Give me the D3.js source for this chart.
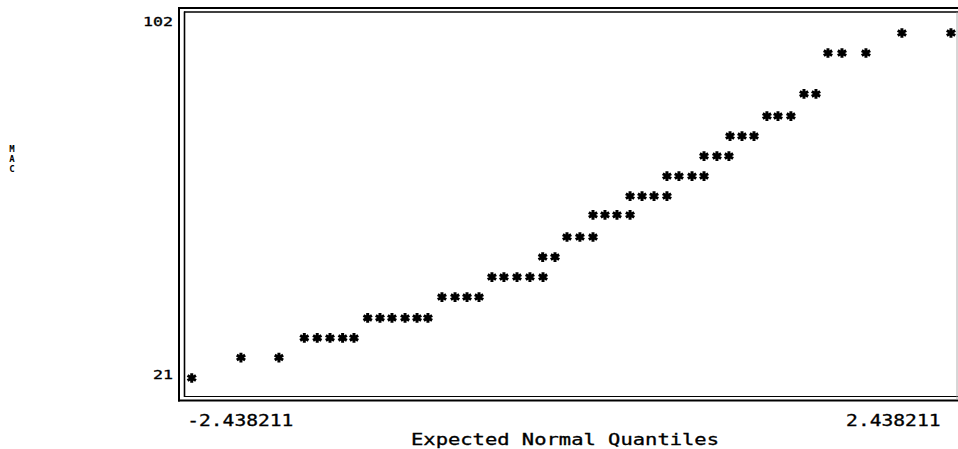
<!DOCTYPE html>
<html>
<head>
<meta charset="utf-8">
<script src="https://cdn.jsdelivr.net/npm/d3@7"></script>
<style>
  body { margin: 0; background: #fff; }
  text { font-family: "DejaVu Sans Mono", "Liberation Mono", monospace; fill: #000; }
</style>
</head>
<body>
<svg id="chart" width="958" height="449"></svg>
<script>
// ---- data ----
const quantiles = [
  -2.438,
  -2.122, -1.878,
  -1.715, -1.632, -1.550, -1.469, -1.396,
  -1.308, -1.229, -1.152, -1.068, -0.991, -0.921,
  -0.831, -0.747, -0.670, -0.593,
  -0.510, -0.433, -0.349, -0.266, -0.182,
  -0.184, -0.105,
  -0.028, 0.055, 0.139,
  0.139, 0.216, 0.293, 0.377,
  0.377, 0.454, 0.531, 0.614,
  0.614, 0.691, 0.775, 0.852,
  0.852, 0.935, 1.012,
  1.019, 1.096, 1.173,
  1.256, 1.327, 1.410,
  1.494, 1.571,
  1.648, 1.738, 1.892,
  2.123, 2.438
];
const macValues = [
  21,
  25.8, 25.8,
  30.4, 30.4, 30.4, 30.4, 30.4,
  35.1, 35.1, 35.1, 35.1, 35.1, 35.1,
  40.0, 40.0, 40.0, 40.0,
  44.7, 44.7, 44.7, 44.7, 44.7,
  49.4, 49.4,
  54.1, 54.1, 54.1,
  59.3, 59.3, 59.3, 59.3,
  63.7, 63.7, 63.7, 63.7,
  68.4, 68.4, 68.4, 68.4,
  73.1, 73.1, 73.1,
  77.8, 77.8, 77.8,
  82.5, 82.5, 82.5,
  87.7, 87.7,
  97.3, 97.3, 97.3,
  102, 102
];
const yTickValues = [21, 102];
const xTickValues = [-2.438211, 2.438211];
const xTickLabels = ["-2.438211", "2.438211"];
const xTitle = "Expected Normal Quantiles";
const yTitle = "MAC";

// ---- drawing ----
const svg = d3.select("#chart");

const x = d3.scaleLinear().domain([-2.438211, 2.438211]).range([191.7, 951]);
const y = d3.scaleLinear().domain([21, 102]).range([378, 33]);

// double frame
const frame = svg.append("g").attr("stroke", "#000").attr("fill", "none");
// outer
frame.append("line").attr("x1", 179).attr("x2", 179).attr("y1", 7.5).attr("y2", 401.5).attr("stroke-width", 2);
frame.append("line").attr("x1", 178).attr("x2", 958).attr("y1", 8).attr("y2", 8).attr("stroke-width", 2);
frame.append("line").attr("x1", 178).attr("x2", 958).attr("y1", 400.5).attr("y2", 400.5).attr("stroke-width", 2.2);
// inner
frame.append("line").attr("x1", 184.5).attr("x2", 184.5).attr("y1", 11.5).attr("y2", 397).attr("stroke-width", 1.6);
frame.append("line").attr("x1", 184).attr("x2", 958).attr("y1", 12).attr("y2", 12).attr("stroke-width", 1.6);
frame.append("line").attr("x1", 184).attr("x2", 958).attr("y1", 396.5).attr("y2", 396.5).attr("stroke-width", 1.2);
// faint right edge
frame.append("line").attr("x1", 957).attr("x2", 957).attr("y1", 12).attr("y2", 400).attr("stroke", "#999").attr("stroke-width", 0.8);

// points as asterisks
const star = d3.symbol().type(d3.symbolAsterisk).size(66);
svg.append("g")
  .selectAll("path")
  .data(quantiles.map((q, i) => ({ q, v: macValues[i] })))
  .join("path")
  .attr("transform", d => `translate(${x(d.q)},${y(d.v)})`)
  .attr("d", star)
  .attr("fill", "none")
  .attr("stroke", "#000")
  .attr("stroke-width", 3);

// y axis tick labels
const yAxis = d3.axisLeft(y).tickValues(yTickValues).tickSize(0).tickPadding(0).tickFormat(d3.format("d"));
const gy = svg.append("g").attr("transform", "translate(173,0)").call(yAxis);
gy.select(".domain").remove();
gy.selectAll("text")
  .attr("font-size", 11.5)
  .attr("font-family", "DejaVu Sans Mono")
  .attr("dy", null)
  .attr("x", 0)
  .attr("y", d => d === 102 ? -8 : 0)
  .attr("textLength", d => String(d).length * 10)
  .attr("lengthAdjust", "spacingAndGlyphs")
  .attr("stroke", "#000")
  .attr("stroke-width", 0.3);

// x axis tick labels
const xAxis = d3.axisBottom(x).tickValues(xTickValues).tickSize(0).tickPadding(0)
  .tickFormat((d, i) => xTickLabels[i]);
const gx = svg.append("g").attr("transform", "translate(0,425.5)").call(xAxis);
gx.select(".domain").remove();
gx.selectAll("text")
  .attr("font-size", 15)
  .attr("font-family", "DejaVu Sans Mono")
  .attr("dy", null)
  .attr("y", 0)
  .attr("text-anchor", (d, i) => i === 0 ? "start" : "end")
  .attr("x", (d, i) => i === 0 ? -5 : -11)
  .attr("textLength", (d, i) => xTickLabels[i].length * 11.8)
  .attr("lengthAdjust", "spacingAndGlyphs")
  .attr("stroke", "#000")
  .attr("stroke-width", 0.3);

// x title
svg.append("text")
  .attr("x", 411).attr("y", 445)
  .attr("font-size", 15)
  .attr("textLength", 308)
  .attr("lengthAdjust", "spacingAndGlyphs")
  .attr("stroke", "#000")
  .attr("stroke-width", 0.3)
  .text(xTitle);

// y title, stacked letters
svg.append("g").selectAll("text")
  .data(yTitle.split(""))
  .join("text")
  .attr("x", 12)
  .attr("y", (d, i) => 152 + i * 10)
  .attr("text-anchor", "middle")
  .attr("font-size", 9)
  .attr("font-weight", "bold")
  .text(d => d);
</script>
</body>
</html>
